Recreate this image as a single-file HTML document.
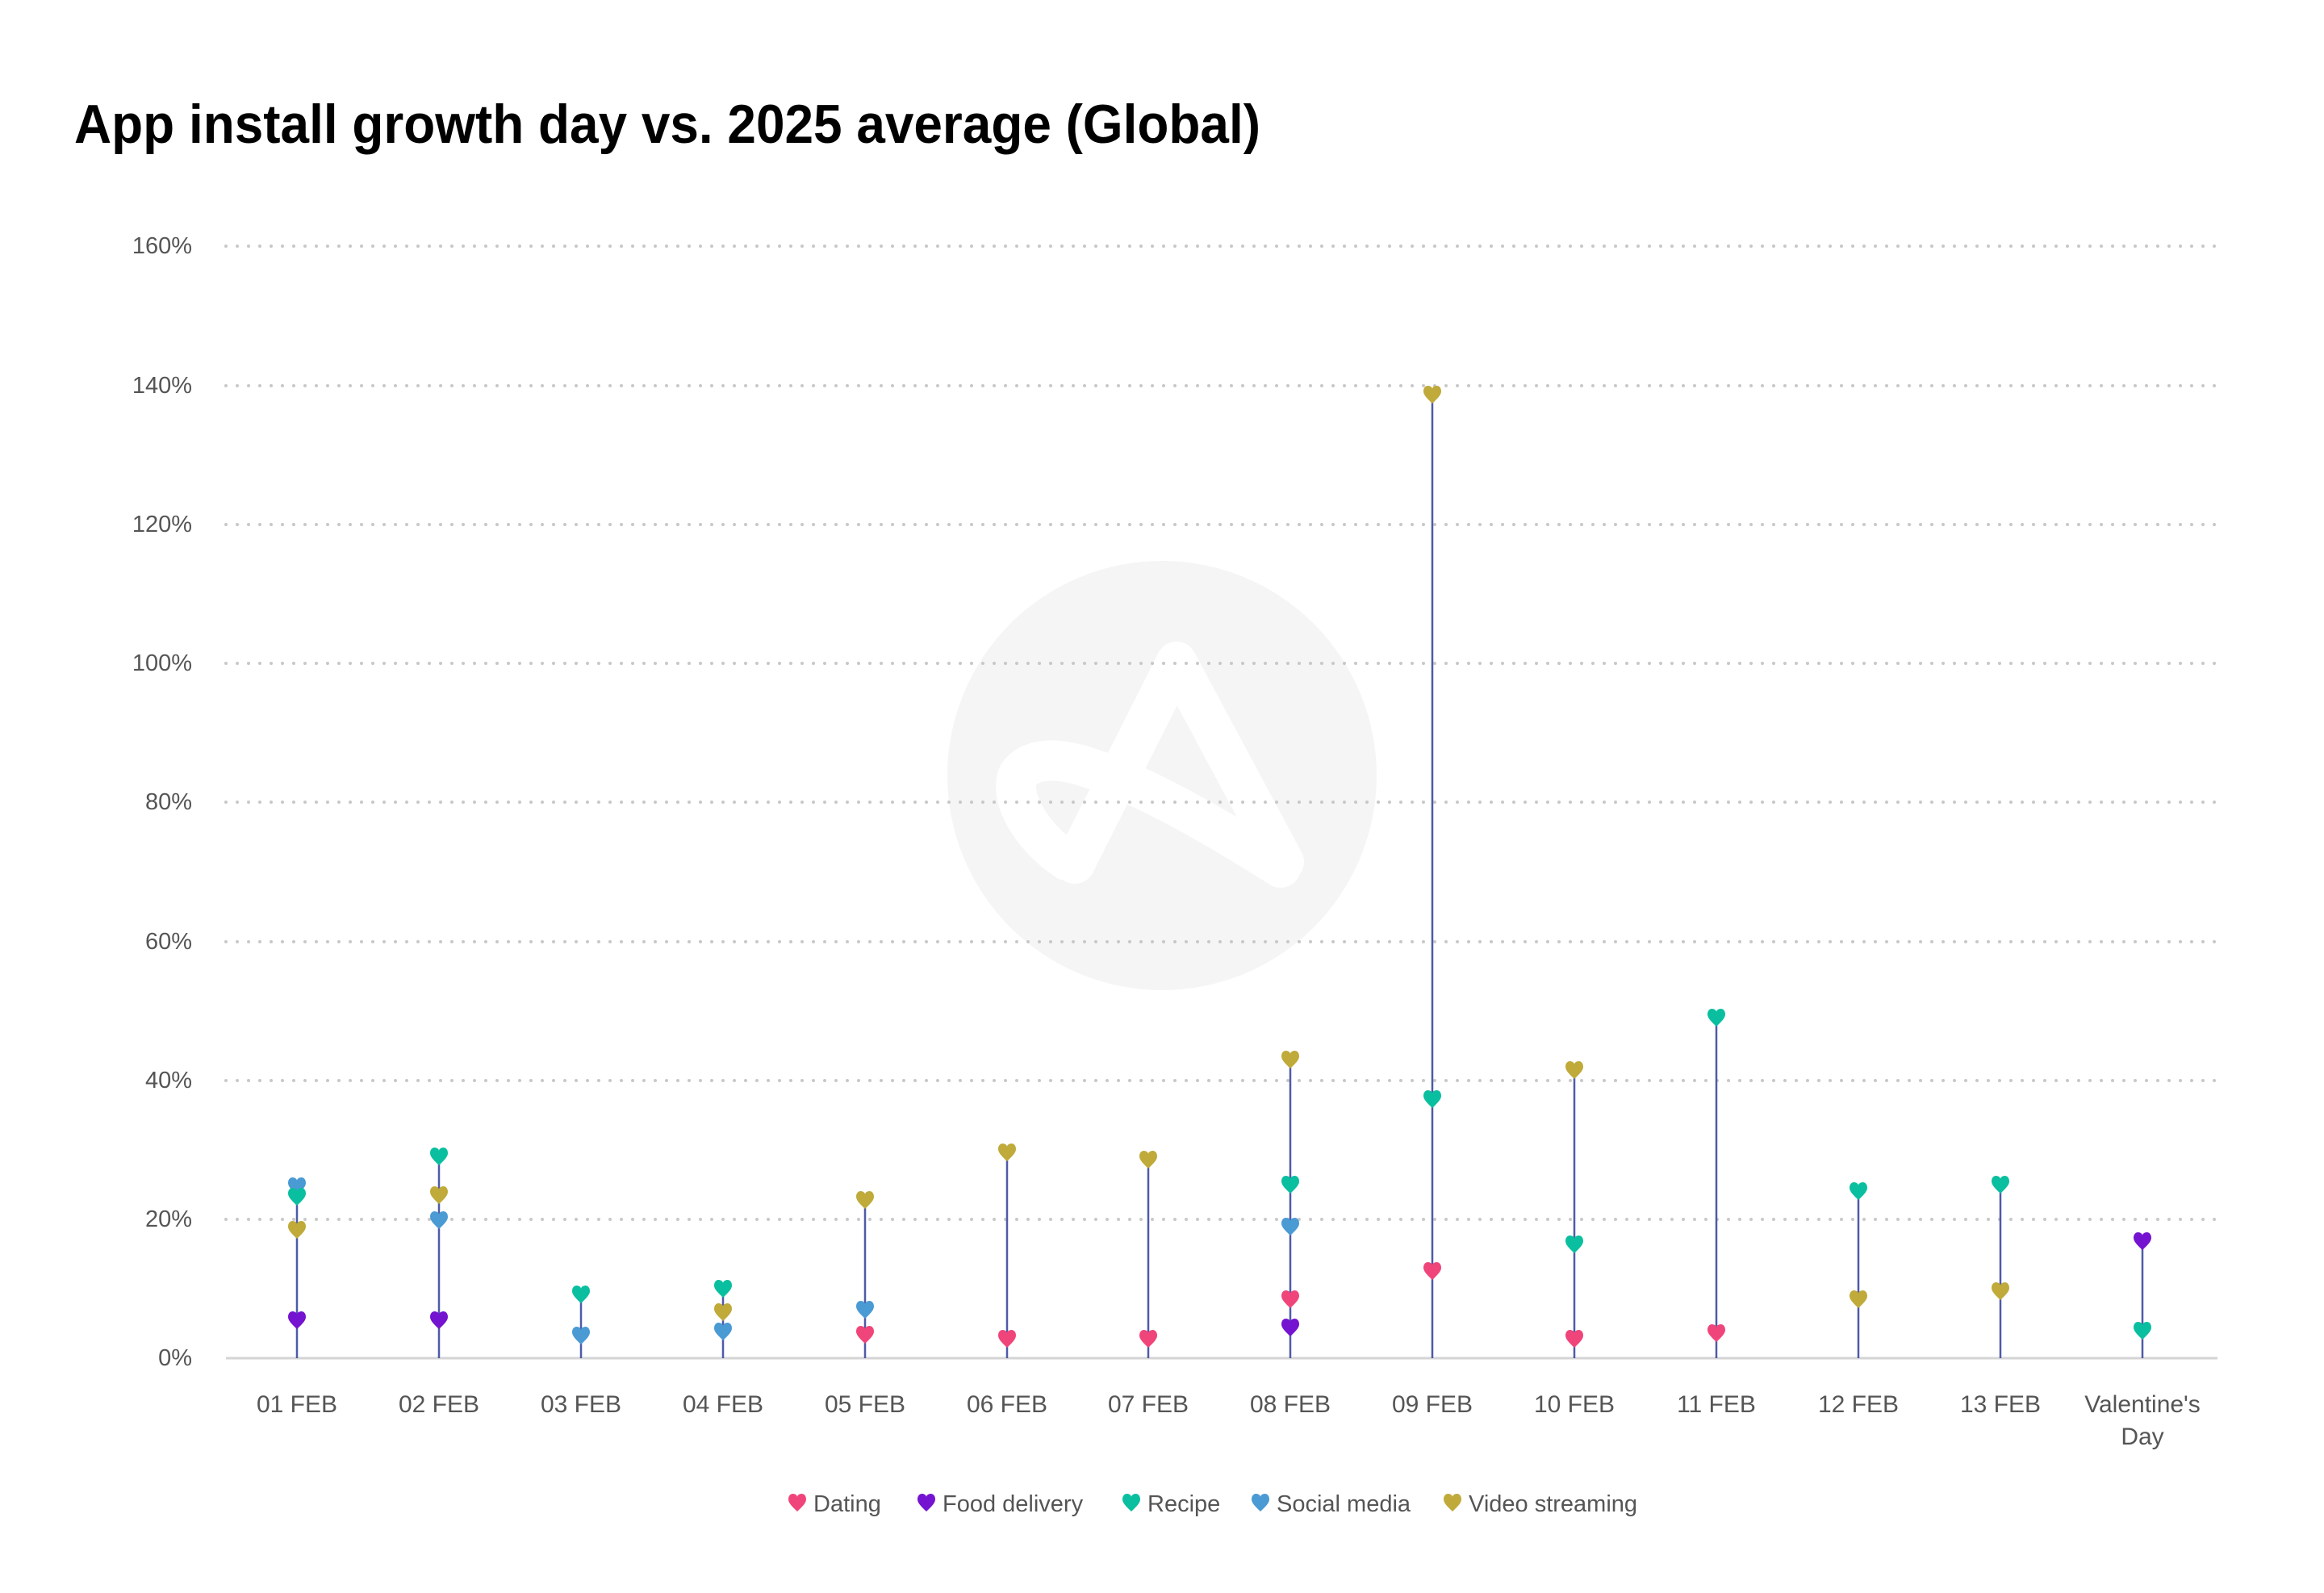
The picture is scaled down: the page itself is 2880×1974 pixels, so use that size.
<!DOCTYPE html>
<html><head><meta charset="utf-8"><style>
html,body{margin:0;padding:0;background:#fff;}
svg{display:block;font-family:"Liberation Sans",sans-serif;}
</style></head><body>
<svg width="2880" height="1974" viewBox="0 0 2880 1974" xmlns="http://www.w3.org/2000/svg">
<defs>
<path id="h" d="M0,11 C-5,6 -11,1 -11,-4 C-11,-9 -8,-11 -5.5,-11 C-2.5,-11 0,-9 0,-7 C0,-9 2.5,-11 5.5,-11 C8,-11 11,-9 11,-4 C11,1 5,6 0,11Z"/>
</defs>
<rect width="2880" height="1974" fill="#fff"/>
<text x="92" y="177" font-size="68" font-weight="bold" fill="#000" textLength="1470" lengthAdjust="spacingAndGlyphs">App install growth day vs. 2025 average (Global)</text>

<circle cx="1440" cy="961" r="266" fill="#f5f5f5"/>
<g fill="none" stroke="#fff" stroke-width="50" stroke-linecap="round" stroke-linejoin="round">
<path d="M1591,1068 L1458,820 L1332,1070"/>
<path d="M1587,1075 C1500,1020 1420,975 1360,955 C1320,940 1280,935 1262,960 C1250,985 1275,1035 1322,1066"/>
</g>

<g stroke="#c8c8c8" stroke-width="4" stroke-linecap="round" stroke-dasharray="0 14">
<line x1="280" y1="305" x2="2746" y2="305"/>
<line x1="280" y1="478" x2="2746" y2="478"/>
<line x1="280" y1="650" x2="2746" y2="650"/>
<line x1="280" y1="822" x2="2746" y2="822"/>
<line x1="280" y1="994" x2="2746" y2="994"/>
<line x1="280" y1="1167" x2="2746" y2="1167"/>
<line x1="280" y1="1339" x2="2746" y2="1339"/>
<line x1="280" y1="1511" x2="2746" y2="1511"/>
</g>
<line x1="280" y1="1683" x2="2748" y2="1683" stroke="#d4d4d4" stroke-width="3"/>

<g font-size="29" fill="#555" text-anchor="end">
<text x="238" y="314">160%</text>
<text x="238" y="487">140%</text>
<text x="238" y="659">120%</text>
<text x="238" y="831">100%</text>
<text x="238" y="1003">80%</text>
<text x="238" y="1176">60%</text>
<text x="238" y="1348">40%</text>
<text x="238" y="1520">20%</text>
<text x="238" y="1692">0%</text>
</g>

<g font-size="30" fill="#555" text-anchor="middle">
<text x="368" y="1750">01 FEB</text>
<text x="544" y="1750">02 FEB</text>
<text x="720" y="1750">03 FEB</text>
<text x="896" y="1750">04 FEB</text>
<text x="1072" y="1750">05 FEB</text>
<text x="1248" y="1750">06 FEB</text>
<text x="1423" y="1750">07 FEB</text>
<text x="1599" y="1750">08 FEB</text>
<text x="1775" y="1750">09 FEB</text>
<text x="1951" y="1750">10 FEB</text>
<text x="2127" y="1750">11 FEB</text>
<text x="2303" y="1750">12 FEB</text>
<text x="2479" y="1750">13 FEB</text>
<text x="2655" y="1750">Valentine's</text>
<text x="2655" y="1790">Day</text>
</g>

<g stroke="#4f5aa8" stroke-width="2.5">
<line x1="368" y1="1470" x2="368" y2="1683"/>
<line x1="544" y1="1433" x2="544" y2="1683"/>
<line x1="720" y1="1604" x2="720" y2="1683"/>
<line x1="896" y1="1597" x2="896" y2="1683"/>
<line x1="1072" y1="1487" x2="1072" y2="1683"/>
<line x1="1248" y1="1428" x2="1248" y2="1683"/>
<line x1="1423" y1="1437" x2="1423" y2="1683"/>
<line x1="1599" y1="1313" x2="1599" y2="1683"/>
<line x1="1775" y1="489" x2="1775" y2="1683"/>
<line x1="1951" y1="1326" x2="1951" y2="1683"/>
<line x1="2127" y1="1261" x2="2127" y2="1683"/>
<line x1="2303" y1="1476" x2="2303" y2="1683"/>
<line x1="2479" y1="1468" x2="2479" y2="1683"/>
<line x1="2655" y1="1538" x2="2655" y2="1683"/>
</g>

<g>
<use href="#h" x="368" y="1470" fill="#4a9ad4"/>
<use href="#h" x="368" y="1483" fill="#0abf9f"/>
<use href="#h" x="368" y="1524" fill="#bfaa3a"/>
<use href="#h" x="368" y="1636" fill="#7413d0"/>

<use href="#h" x="544" y="1433" fill="#0abf9f"/>
<use href="#h" x="544" y="1481" fill="#bfaa3a"/>
<use href="#h" x="544" y="1512" fill="#4a9ad4"/>
<use href="#h" x="544" y="1636" fill="#7413d0"/>

<use href="#h" x="720" y="1604" fill="#0abf9f"/>
<use href="#h" x="720" y="1655" fill="#4a9ad4"/>

<use href="#h" x="896" y="1597" fill="#0abf9f"/>
<use href="#h" x="896" y="1626" fill="#bfaa3a"/>
<use href="#h" x="896" y="1650" fill="#4a9ad4"/>

<use href="#h" x="1072" y="1487" fill="#bfaa3a"/>
<use href="#h" x="1072" y="1623" fill="#4a9ad4"/>
<use href="#h" x="1072" y="1654" fill="#f0457a"/>

<use href="#h" x="1248" y="1428" fill="#bfaa3a"/>
<use href="#h" x="1248" y="1659" fill="#f0457a"/>

<use href="#h" x="1423" y="1437" fill="#bfaa3a"/>
<use href="#h" x="1423" y="1659" fill="#f0457a"/>

<use href="#h" x="1599" y="1313" fill="#bfaa3a"/>
<use href="#h" x="1599" y="1468" fill="#0abf9f"/>
<use href="#h" x="1599" y="1520" fill="#4a9ad4"/>
<use href="#h" x="1599" y="1610" fill="#f0457a"/>
<use href="#h" x="1599" y="1645" fill="#7413d0"/>

<use href="#h" x="1775" y="489" fill="#bfaa3a"/>
<use href="#h" x="1775" y="1362" fill="#0abf9f"/>
<use href="#h" x="1775" y="1575" fill="#f0457a"/>

<use href="#h" x="1951" y="1326" fill="#bfaa3a"/>
<use href="#h" x="1951" y="1542" fill="#0abf9f"/>
<use href="#h" x="1951" y="1659" fill="#f0457a"/>

<use href="#h" x="2127" y="1261" fill="#0abf9f"/>
<use href="#h" x="2127" y="1652" fill="#f0457a"/>

<use href="#h" x="2303" y="1476" fill="#0abf9f"/>
<use href="#h" x="2303" y="1610" fill="#bfaa3a"/>

<use href="#h" x="2479" y="1468" fill="#0abf9f"/>
<use href="#h" x="2479" y="1600" fill="#bfaa3a"/>

<use href="#h" x="2655" y="1538" fill="#7413d0"/>
<use href="#h" x="2655" y="1649" fill="#0abf9f"/>
</g>

<g font-size="29" fill="#555">
<use href="#h" x="988" y="1862" fill="#f0457a"/>
<text x="1008" y="1873">Dating</text>
<use href="#h" x="1148" y="1862" fill="#7413d0"/>
<text x="1168" y="1873">Food delivery</text>
<use href="#h" x="1402" y="1862" fill="#0abf9f"/>
<text x="1422" y="1873">Recipe</text>
<use href="#h" x="1562" y="1862" fill="#4a9ad4"/>
<text x="1582" y="1873">Social media</text>
<use href="#h" x="1800" y="1862" fill="#bfaa3a"/>
<text x="1820" y="1873">Video streaming</text>
</g>
</svg>
</body></html>
